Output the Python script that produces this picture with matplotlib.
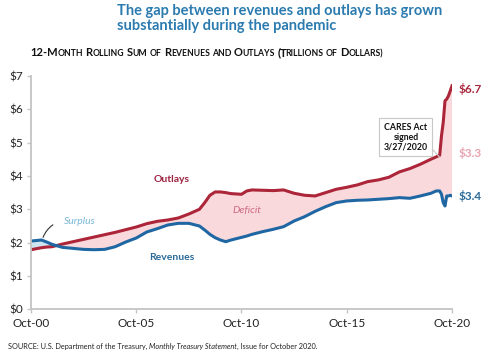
import matplotlib
matplotlib.use('Agg')
from matplotlib import pyplot as plt
import pandas as pd

plt.rcParams['font.family'] = ['Lato', 'DejaVu Sans']

# 12-month rolling sums, trillions of dollars
dates = ['2000-10', '2001-04', '2001-07', '2001-10', '2002-04', '2002-10', '2003-04', '2003-10',
         '2004-04', '2004-10', '2005-04', '2005-10', '2006-04', '2006-10', '2007-04', '2007-10',
         '2008-04', '2008-10', '2009-01', '2009-04', '2009-07', '2009-10', '2010-01', '2010-04',
         '2010-10', '2011-01', '2011-04', '2011-10', '2012-04', '2012-10', '2013-04', '2013-10',
         '2014-04', '2014-10', '2015-04', '2015-10', '2016-04', '2016-10', '2017-04', '2017-10',
         '2018-04', '2018-10', '2019-04', '2019-10', '2020-01', '2020-03', '2020-04', '2020-05',
         '2020-06', '2020-07', '2020-08', '2020-09', '2020-10']
outlays = [1.79, 1.85, 1.87, 1.88, 1.96, 2.03, 2.10, 2.17,
           2.24, 2.31, 2.39, 2.47, 2.57, 2.64, 2.68, 2.74,
           2.86, 3.00, 3.20, 3.42, 3.52, 3.52, 3.50, 3.47,
           3.45, 3.55, 3.58, 3.57, 3.56, 3.58, 3.48, 3.42,
           3.40, 3.50, 3.60, 3.66, 3.73, 3.83, 3.88, 3.96,
           4.12, 4.22, 4.35, 4.50, 4.57, 4.62, 5.20, 5.60,
           6.25, 6.30, 6.40, 6.55, 6.70]
revenues = [2.05, 2.08, 2.02, 1.95, 1.86, 1.83, 1.80, 1.79,
            1.80, 1.88, 2.02, 2.14, 2.32, 2.42, 2.53, 2.58,
            2.58, 2.50, 2.38, 2.25, 2.15, 2.08, 2.03, 2.08,
            2.16, 2.20, 2.25, 2.33, 2.40, 2.48, 2.65, 2.78,
            2.94, 3.08, 3.20, 3.25, 3.27, 3.28, 3.30, 3.32,
            3.35, 3.33, 3.40, 3.48, 3.55, 3.55, 3.45, 3.20,
            3.10, 3.40, 3.40, 3.42, 3.40]
x_ticks = ['2000-10', '2005-10', '2010-10', '2015-10', '2020-10']
x_labels = ['Oct-00', 'Oct-05', 'Oct-10', 'Oct-15', 'Oct-20']
y_ticks = [0, 1, 2, 3, 4, 5, 6, 7]

red = '#ac2539'
blue = '#1f67a3'

t = pd.to_datetime(dates)
fig = plt.figure(figsize=(4.89, 3.61), dpi=100)
ax = fig.add_axes([0.0634, 0.1427, 0.861, 0.6475])

ax.fill_between(t, revenues, outlays, where=[o >= r for o, r in zip(outlays, revenues)],
                interpolate=True, facecolor='#f9d9dc', linewidth=0)
ax.fill_between(t, revenues, outlays, where=[r > o for o, r in zip(outlays, revenues)],
                interpolate=True, facecolor='#cfe5f2', linewidth=0)
ax.plot(t, outlays, c=red, linewidth=2.2, solid_joinstyle='round')
ax.plot(t, revenues, c=blue, linewidth=2.2, solid_joinstyle='round')

ax.set_xlim(pd.Timestamp('2000-10'), pd.Timestamp('2020-10'))
ax.set_ylim(0, 7)
ax.set_xticks(pd.to_datetime(x_ticks))
ax.set_xticklabels(x_labels)
ax.set_yticks(y_ticks)
ax.set_yticklabels(['$%d' % v for v in y_ticks])
for s in ['top', 'right']:
    ax.spines[s].set_visible(False)
for s in ['left', 'bottom']:
    ax.spines[s].set_color('#c4c4c4')
    ax.spines[s].set_linewidth(1.3)
ax.tick_params(axis='both', colors='#c4c4c4', labelcolor='#222222', labelsize=8.5, length=3, width=1)
ax.tick_params(axis='y', pad=3)
ax.tick_params(axis='x', pad=3)


def yr(v):
    return pd.Timestamp('2000-10-01') + pd.Timedelta(days=(v - 2000.75) * 365.25)


# Подписи рядов
ax.text(yr(2007.45), 3.88, 'Outlays', color='#9c2440', fontsize=7.5, fontweight='bold', ha='center', va='center')
ax.text(yr(2007.45), 1.57, 'Revenues', color='#2a6a9a', fontsize=7.5, fontweight='bold', ha='center', va='center')
ax.text(yr(2003.05), 2.62, 'Surplus', color='#78b6d8', fontsize=7.5, style='italic', ha='center', va='center')
ax.text(yr(2011.0), 2.95, 'Deficit', color='#d06a85', fontsize=7.5, style='italic', ha='center', va='center')
ax.annotate('', xy=(yr(2001.28), 2.08), xytext=(yr(2001.9), 2.58),
            arrowprops=dict(arrowstyle='-', color='#333333', lw=0.8, connectionstyle='arc3,rad=0.2'))

ax.annotate('CARES Act\nsigned\n3/27/2020', xy=(yr(2020.18), 4.55), xytext=(yr(2018.56), 5.16),
            ha='center', va='center', fontsize=6.3, fontweight='bold', color='#111111', linespacing=1.15,
            bbox=dict(boxstyle='square,pad=0.5', fc='white', ec='#c8c8c8', lw=0.8),
            arrowprops=dict(arrowstyle='-', color='#c8c8c8', lw=0.8, shrinkA=0, shrinkB=0,
                            relpos=(1.0, 0.25)))

ax.text(yr(2021.05), 6.6, '$6.7', color='#a8283c', fontsize=8.5, fontweight='bold', va='center', clip_on=False)
ax.text(yr(2021.05), 4.69, '$3.3', color='#e8a2b0', fontsize=8.5, fontweight='bold', va='center', clip_on=False)
ax.text(yr(2021.05), 3.40, '$3.4', color='#2a6a9a', fontsize=8.5, fontweight='bold', va='center', clip_on=False)

# Заголовок
fig.text(117 / 489, 1 - 4 / 361, 'The gap between revenues and outlays has grown\nsubstantially during the pandemic',
         color='#2b7bb0', fontsize=10.5, fontweight='bold', ha='left', va='top', linespacing=1.1)

# Подзаголовок капителью
fig.canvas.draw()
renderer = fig.canvas.get_renderer()


def advance(txt, size):
    # ширина по advance: "|txt|" минус "||"
    a = fig.text(0, 0, '|' + txt + '|', fontsize=size, fontweight='bold')
    b = fig.text(0, 0, '||', fontsize=size, fontweight='bold')
    w = a.get_window_extent(renderer).width - b.get_window_extent(renderer).width
    a.remove()
    b.remove()
    return w


big_size, small_size = 8, 6.2
words = [('12-M', 'ONTH'), ('R', 'OLLING'), ('S', 'UM'), ('', 'OF'), ('R', 'EVENUES'), ('', 'AND'),
         ('O', 'UTLAYS'), ('(T', 'RILLIONS'), ('', 'OF'), ('D', 'OLLARS)')]
space = advance(' ', big_size) * 0.85
xpos = 30
for head, tail in words:
    if head:
        fig.text(xpos / 489, 1 - 56 / 361, head, fontsize=big_size, fontweight='bold',
                 color='#111111', ha='left', va='baseline')
        xpos += advance(head, big_size)
        if head.endswith('T'):
            xpos -= 1.5  # кернинг после T
    fig.text(xpos / 489, 1 - 56 / 361, tail, fontsize=small_size, fontweight='bold',
             color='#111111', ha='left', va='baseline')
    xpos += advance(tail, small_size) + space

# Источник
src = fig.text(8 / 489, 1 - 349 / 361, 'SOURCE: U.S. Department of the Treasury, ', fontsize=5.3, color='#222222',
               ha='left', va='baseline')
fig.canvas.draw()
w1 = src.get_window_extent(renderer).width
it = fig.text((8 + w1) / 489, 1 - 349 / 361, 'Monthly Treasury Statement', fontsize=5.3, style='italic',
              color='#222222', ha='left', va='baseline')
w2 = it.get_window_extent(renderer).width
fig.text((8 + w1 + w2) / 489, 1 - 349 / 361, ', Issue for October 2020.', fontsize=5.3, color='#222222',
         ha='left', va='baseline')

fig.savefig('out.png', dpi=100)
